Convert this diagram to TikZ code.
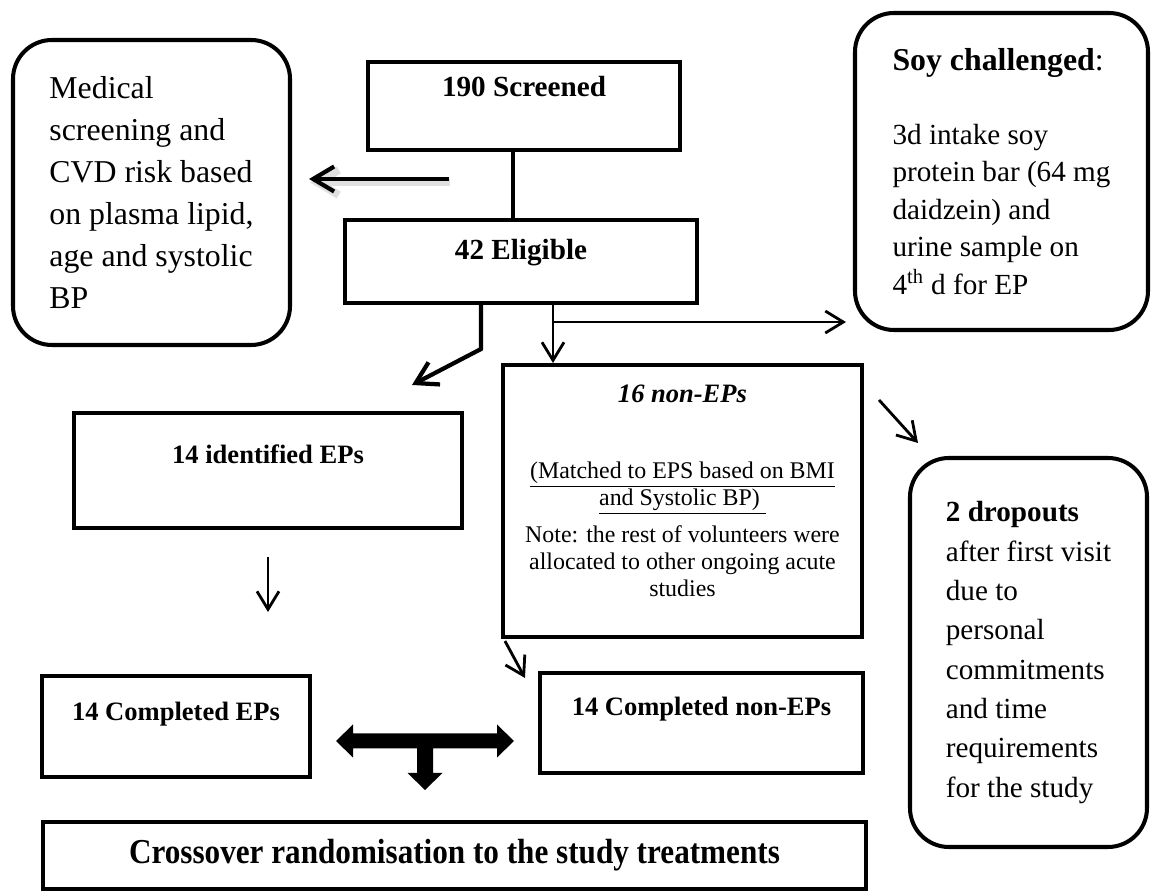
\documentclass[tikz,border=0pt]{standalone}
\usepackage{fontspec}
\setmainfont{Liberation Serif}
\usepackage{graphicx}
\usetikzlibrary{positioning,arrows.meta}

\newcommand{\flowFontTwelve}{\fontsize{18.1pt}{23.9pt}\selectfont}
\newcommand{\flowFontEleven}{\fontsize{16.6pt}{21.3pt}\selectfont}
\newcommand{\flowFontTen}{\fontsize{15.1pt}{18pt}\selectfont}
\newcommand{\flowFontNine}{\fontsize{13.6pt}{15.4pt}\selectfont}

\tikzset{
   flowBox/.style = {
         rectangle,
         draw,
         line width = 2.3pt,
         align = center,
         inner sep = 0pt,
         font = \flowFontEleven\bfseries,
      },
   flowLift/.style = {
         text height = 0.45cm,
         text depth = #1,
      },
   flowRound/.style = {
         rectangle,
         draw,
         line width = 2.3pt,
         rounded corners = 0.78cm,
         align = left,
         inner sep = 0pt,
      },
   flowEdge/.style = {
         draw,
         line width = 2.3pt,
      },
   flowLine/.style = {
         draw,
         line width = 1.6pt,
         -{Straight Barb[length=0.36cm,width=0.44cm]},
      },
   flowThick/.style = {
         draw,
         line width = 2.4pt,
         -{Straight Barb[length=0.42cm,width=0.5cm]},
      },
   flowShadow/.style = {
         draw = black!12,
         line width = 4.5pt,
         -{Straight Barb[length=0.42cm,width=0.5cm]},
      },
}

\begin{document}
\begin{tikzpicture}[node distance = 2cm, auto]

\useasboundingbox (0,0) rectangle (23.08,-17.82);

% Place nodes
\node [flowBox, minimum width=6.24cm, minimum height=1.76cm, flowLift=0.83cm]
	(screened) at (10.48,-2.12) {190 Screened};
\node [flowBox, below of=screened, xshift=-0.06cm, yshift=-1.11cm,
	minimum width=7.04cm, minimum height=1.66cm, flowLift=0.53cm]
	(eligible) {42 Eligible};

\node [flowRound, left of=screened, xshift=-5.45cm, yshift=-1.73cm,
	minimum width=5.54cm, minimum height=6.10cm, font=\flowFontTwelve]
	(medical) {Medical\\screening and\\CVD risk based\\on plasma lipid,\\age and systolic\\BP};
\node [flowRound, right of=screened, xshift=7.55cm, yshift=-1.31cm,
	minimum width=5.86cm, minimum height=6.34cm, font=\flowFontEleven]
	(soy-challenge) {{\flowFontTwelve\textbf{Soy challenged}:}\\[0.73cm]3d intake soy\\protein bar (64 mg\\daidzein) and\\urine sample on\\4\textsuperscript{th} d for EP};

\node [flowBox, below of=eligible, xshift=3.23cm, yshift=-2.79cm,
	minimum width=7.18cm, minimum height=5.44cm, text depth=0.4cm, font=\flowFontNine]
	(non-eps) {{\flowFontTen\bfseries\itshape 16 non-EPs}\\[0.98cm]
	\underline{(Matched to EPS based on BMI}\\
	\underline{and Systolic BP)\ }\\[0.2cm]
	Note: the rest of volunteers were\\
	allocated to other ongoing acute\\
	studies};
\node [flowBox, left of=non-eps, xshift=-6.29cm, yshift=0.61cm,
	minimum width=7.76cm, minimum height=2.30cm, flowLift=0.72cm, font=\flowFontTen\bfseries]
	(identified-eps) {14 identified EPs};
\node [flowRound, right of=non-eps, xshift=4.92cm, yshift=-3.03cm,
	minimum width=4.74cm, minimum height=7.78cm,
	font=\fontsize{16.6pt}{22.4pt}\selectfont]
	(dropouts) {\textbf{2 dropouts}\\after first visit\\due to\\personal\\commitments\\and time\\requirements\\for the study};

\node [flowBox, below of=identified-eps, xshift=-1.84cm, yshift=-3.12cm,
	minimum width=5.36cm, minimum height=2.02cm, flowLift=0.68cm, font=\flowFontTen\bfseries]
	(completed-eps) {14 Completed EPs};
\node [flowBox, below of=non-eps, xshift=0.38cm, yshift=-2.44cm,
	minimum width=6.46cm, minimum height=2.00cm, flowLift=0.74cm, font=\flowFontTen\bfseries]
	(completed-non-eps) {14 Completed non-EPs};

\node [flowBox, below of=completed-eps, xshift=5.57cm, yshift=-0.58cm,
	minimum width=16.46cm, minimum height=1.34cm, font=\flowFontTwelve\bfseries]
	(crossover) {\scalebox{0.98}[1.1]{Crossover randomisation to the study treatments}};

% Place joins
\coordinate (branch) at ([xshift=0.64cm, yshift=-0.34cm]eligible.south);
\coordinate [right of=completed-eps, xshift=2.98cm, yshift=-0.29cm] (t-join);

% Draw edges
\path [flowEdge] ([xshift=-0.22cm]screened.south) -- ([xshift=-0.22cm]screened.south |- eligible.north);

\path [flowShadow] ([shift={(3.16,0.2)}]medical.east) -- ([shift={(0.36,0.2)}]medical.east);
\path [flowThick] ([shift={(3.14,0.27)}]medical.east) -- ([shift={(0.34,0.27)}]medical.east);

\path [flowThick] ([xshift=-0.8cm]eligible.south) -- ++(0,-0.88)
	-- ([shift={(2.88,0.52)}]identified-eps.north);
\path [flowLine] ([xshift=0.64cm]eligible.south) -- ([xshift=0.64cm]eligible.south |- non-eps.north);
\path [flowLine] (branch) -- ([xshift=-0.14cm]soy-challenge.west |- branch);

\path [flowLine] ([shift={(0.3,-0.74)}]non-eps.north east) -- ([shift={(0.2,0.26)}]dropouts.north west);

\path [flowLine] ([yshift=-0.54cm]identified-eps.south) -- ++(0,-1.1);
\path [flowLine] ([shift={(0.08,-0.04)}]non-eps.south west) -- ([shift={(-0.26,-0.14)}]completed-non-eps.north west);

\fill [shift={(t-join)}] (-1.78,0) -- (-1.44,0.33) -- (-1.44,0.15) -- (1.44,0.15)
	-- (1.44,0.33) -- (1.78,0) -- (1.44,-0.33) -- (1.44,-0.15) -- (0.16,-0.15)
	-- (0.16,-0.64) -- (0.35,-0.64) -- (0,-0.98) -- (-0.35,-0.64) -- (-0.16,-0.64)
	-- (-0.16,-0.15) -- (-1.44,-0.15) -- (-1.44,-0.33) -- cycle;

\end{tikzpicture}
\end{document}
